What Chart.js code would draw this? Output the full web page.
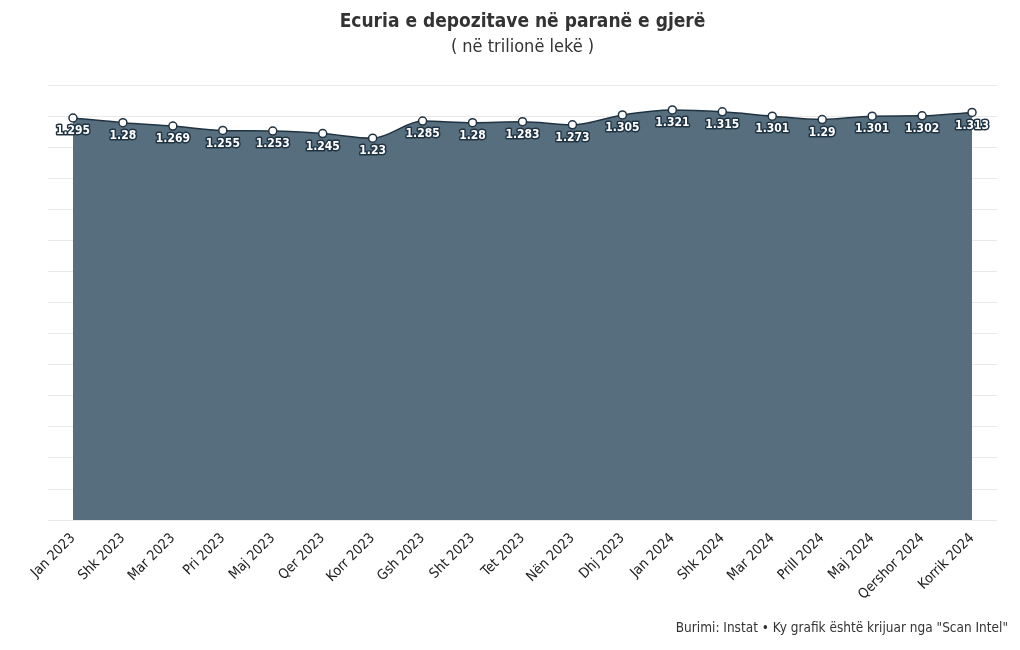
<!DOCTYPE html>
<html>
<head>
<meta charset="utf-8">
<script src="https://cdn.jsdelivr.net/npm/chart.js@4.4.1/dist/chart.umd.min.js"></script>
<style>
  html, body { margin: 0; padding: 0; background: #fff; }
  #wrap { position: relative; width: 1020px; height: 650px; }
  #footer {
    position: absolute; right: 12px; top: 619px;
    font: 13.5px "DejaVu Sans Condensed", sans-serif;
    color: #333;
  }
</style>
</head>
<body>
<div id="wrap">
  <canvas id="chart" width="1020" height="650"></canvas>
  <div id="footer">Burimi: Instat • Ky grafik është krijuar nga "Scan Intel"</div>
</div>
<script>
// ── data ──
const months = ['Jan 2023', 'Shk 2023', 'Mar 2023', 'Pri 2023', 'Maj 2023', 'Qer 2023', 'Korr 2023',
  'Gsh 2023', 'Sht 2023', 'Tet 2023', 'Nën 2023', 'Dhj 2023', 'Jan 2024', 'Shk 2024', 'Mar 2024',
  'Prill 2024', 'Maj 2024', 'Qershor 2024', 'Korrik 2024'];
const deposits = [1.295, 1.28, 1.269, 1.255, 1.253, 1.245, 1.23, 1.285, 1.28, 1.283, 1.273, 1.305,
  1.321, 1.315, 1.301, 1.29, 1.301, 1.302, 1.313];

const condensed = '"DejaVu Sans Condensed", sans-serif';

// value labels under each point: white text with a dark outline
const valueLabels = {
  id: 'valueLabels',
  afterDatasetsDraw(chart) {
    const ctx = chart.ctx;
    const meta = chart.getDatasetMeta(0);
    ctx.save();
    ctx.font = 'bold 12px ' + condensed;
    ctx.textAlign = 'center';
    ctx.textBaseline = 'middle';
    ctx.lineJoin = 'round';
    meta.data.forEach((pt, i) => {
      const txt = String(deposits[i]);
      const y = pt.y + 13;
      ctx.lineWidth = 3;
      ctx.strokeStyle = '#1f3343';
      ctx.strokeText(txt, pt.x, y);
      ctx.fillStyle = '#fff';
      ctx.fillText(txt, pt.x, y);
    });
    ctx.restore();
  }
};

new Chart(document.getElementById('chart'), {
  type: 'line',
  data: {
    labels: months,
    datasets: [{
      data: deposits,
      borderColor: '#1f3343',
      borderWidth: 1.5,
      backgroundColor: '#566e7d',
      fill: 'origin',
      cubicInterpolationMode: 'monotone',
      pointRadius: 4,
      pointBackgroundColor: '#fff',
      pointBorderColor: '#1f3343',
      pointBorderWidth: 1.5
    }]
  },
  options: {
    responsive: false,
    animation: false,
    layout: { padding: { left: 48, right: 23, top: 0, bottom: 45 } },
    plugins: {
      legend: { display: false },
      tooltip: { enabled: false },
      title: {
        display: true,
        text: 'Ecuria e depozitave në paranë e gjerë',
        color: '#333',
        font: { family: condensed, size: 19, weight: 'bold' },
        padding: { top: 11, bottom: 0 }
      },
      subtitle: {
        display: true,
        text: '( në trilionë lekë )',
        color: '#333',
        font: { family: condensed, size: 18 },
        padding: { top: 3, bottom: 27 }
      }
    },
    scales: {
      x: {
        offset: true,
        grid: { display: false },
        border: { display: false },
        ticks: {
          color: '#222',
          font: { family: condensed, size: 14 },
          maxRotation: 45,
          minRotation: 45,
          autoSkip: false,
          padding: 2
        }
      },
      y: {
        min: 0,
        max: 1.4,
        ticks: { stepSize: 0.1, display: false },
        grid: { color: '#e9e9e9', drawTicks: false },
        border: { display: false }
      }
    }
  },
  plugins: [valueLabels]
});
</script>
</body>
</html>
